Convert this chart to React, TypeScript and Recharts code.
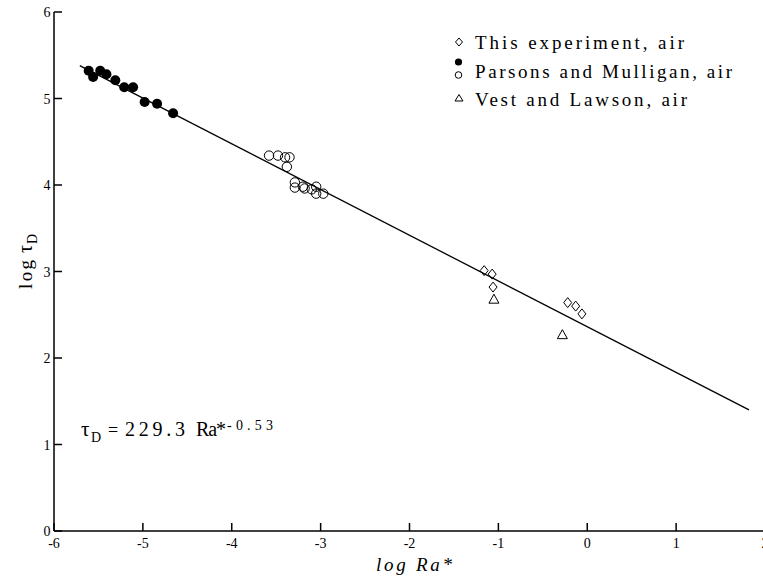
import React from 'react'
import { ScatterChart, Scatter, XAxis, YAxis, Legend, Label } from 'recharts'

const FONT = "'Liberation Serif', 'Times New Roman', 'DejaVu Serif', serif"

const xTicks = [-6, -5, -4, -3, -2, -1, 0, 1, 2]
const yTicks = [0, 1, 2, 3, 4, 5, 6]

// Parsons and Mulligan, filled symbols
const parsonsFilled = [
  { x: -5.61, y: 5.32 },
  { x: -5.56, y: 5.25 },
  { x: -5.48, y: 5.32 },
  { x: -5.41, y: 5.28 },
  { x: -5.31, y: 5.21 },
  { x: -5.21, y: 5.13 },
  { x: -5.11, y: 5.13 },
  { x: -4.98, y: 4.96 },
  { x: -4.84, y: 4.94 },
  { x: -4.66, y: 4.83 },
]

// Parsons and Mulligan, open symbols
const parsonsOpen = [
  { x: -3.58, y: 4.34 },
  { x: -3.48, y: 4.34 },
  { x: -3.4, y: 4.32 },
  { x: -3.35, y: 4.32 },
  { x: -3.38, y: 4.21 },
  { x: -3.29, y: 4.03 },
  { x: -3.29, y: 3.97 },
  { x: -3.2, y: 3.98 },
  { x: -3.18, y: 3.96 },
  { x: -3.1, y: 3.95 },
  { x: -3.05, y: 3.98 },
  { x: -3.05, y: 3.9 },
  { x: -2.97, y: 3.9 },
]

const thisExperiment = [
  { x: -1.16, y: 3.01 },
  { x: -1.07, y: 2.97 },
  { x: -1.06, y: 2.82 },
  { x: -0.22, y: 2.64 },
  { x: -0.13, y: 2.6 },
  { x: -0.06, y: 2.51 },
]

const vestLawson = [
  { x: -1.05, y: 2.68 },
  { x: -0.28, y: 2.27 },
]

// fitted line tau_D = 229.3 Ra*^-0.53, ends as drawn
const fitLine = [
  { x: -5.71, y: 5.38 },
  { x: 1.82, y: 1.4 },
]

const Dot = (p: any) => <circle cx={p.cx} cy={p.cy} r={5} fill="#000" />
const Ring = (p: any) => (
  <circle cx={p.cx} cy={p.cy} r={4.7} fill="none" stroke="#000" strokeWidth={1} />
)
const Diamond = (p: any) => (
  <path
    d={`M${p.cx},${p.cy - 5}L${p.cx + 4},${p.cy}L${p.cx},${p.cy + 5}L${p.cx - 4},${p.cy}Z`}
    fill="none"
    stroke="#000"
    strokeWidth={1}
  />
)
const Triangle = (p: any) => (
  <path
    d={`M${p.cx},${p.cy - 5}L${p.cx + 5},${p.cy + 4}L${p.cx - 5},${p.cy + 4}Z`}
    fill="none"
    stroke="#000"
    strokeWidth={1}
  />
)
const NoDot = () => <g />

// tick marks point into the plot, labels sit outside
const BottomTick = ({ x, y, payload }: any) => (
  <g>
    <line x1={x} x2={x} y1={y - 8} y2={y - 16} stroke="#000" strokeWidth={1.5} />
    <text x={x} y={y + 9} textAnchor="middle" fontFamily={FONT} fontSize={14} fill="#000">
      {payload.value}
    </text>
  </g>
)
const LeftTick = ({ x, y, payload }: any) => (
  <g>
    <line x1={x + 8} x2={x + 16} y1={y} y2={y} stroke="#000" strokeWidth={1.5} />
    <text x={x + 4.5} y={y + 5} textAnchor="end" fontFamily={FONT} fontSize={14} fill="#000">
      {payload.value}
    </text>
  </g>
)
const TopTick = ({ x, y }: any) => (
  <line x1={x} x2={x} y1={y + 8} y2={y + 15} stroke="#000" strokeWidth={1.5} />
)
const RightTick = ({ x, y }: any) => (
  <line x1={x - 8} x2={x - 15} y1={y} y2={y} stroke="#000" strokeWidth={1.5} />
)

const txt = { fontFamily: FONT, fill: '#000' }
const axisStroke = { stroke: '#000', strokeWidth: 1.5 }

const LegendBox = () => (
  <svg width={330} height={115} style={{ display: 'block' }}>
    <g transform="translate(-440,0)">
      <path d="M459,38L462.5,42L459,46L455.5,42Z" fill="none" stroke="#000" strokeWidth={1} />
      <text x={475} y={49} fontSize={19} textLength={209} lengthAdjust="spacing" {...txt}>
        This experiment, air
      </text>
      <circle cx={458.5} cy={62} r={3.6} fill="#000" />
      <circle cx={458.5} cy={75} r={3.3} fill="none" stroke="#000" strokeWidth={1} />
      <text x={475} y={78} fontSize={19} textLength={257} lengthAdjust="spacing" {...txt}>
        Parsons and Mulligan, air
      </text>
      <path d="M459,94.5L463,101L455,101Z" fill="none" stroke="#000" strokeWidth={1} />
      <text x={475} y={106} fontSize={19} textLength={212} lengthAdjust="spacing" {...txt}>
        Vest and Lawson, air
      </text>
    </g>
  </svg>
)

const YTitle = () => (
  <g transform="translate(32,289) rotate(-90)">
    <text x={0} y={0} fontSize={19} textLength={29} lengthAdjust="spacing" {...txt}>
      log
    </text>
    <text x={36} y={0} fontSize={20} {...txt}>
      τ
    </text>
    <text x={45} y={5} fontSize={14} {...txt}>
      D
    </text>
  </g>
)

const XTitle = () => (
  <text x={376} y={571} fontSize={19} fontStyle="italic" textLength={76} lengthAdjust="spacing" {...txt}>
    log Ra*
  </text>
)

export default function App() {
  return (
    <div
      style={{
        position: 'absolute',
        left: 0,
        top: 0,
        width: 763,
        height: 576,
        overflow: 'hidden',
        background: '#fff',
      }}
    >
      <ScatterChart width={775} height={576} margin={{ top: 12, right: 10, bottom: 0, left: 10 }}>
        <XAxis
          type="number"
          dataKey="x"
          domain={[-6, 2]}
          ticks={xTicks}
          interval={0}
          height={45}
          allowDataOverflow
          tickLine={false}
          tickSize={6}
          tickMargin={2}
          axisLine={axisStroke}
          tick={BottomTick}
        >
          <Label content={XTitle} />
        </XAxis>
        <YAxis
          type="number"
          dataKey="y"
          domain={[0, 6]}
          ticks={yTicks}
          interval={0}
          width={44}
          allowDataOverflow
          tickLine={false}
          tickSize={6}
          tickMargin={2}
          axisLine={axisStroke}
          tick={LeftTick}
        >
          <Label content={YTitle} />
        </YAxis>
        <XAxis
          xAxisId="top"
          orientation="top"
          type="number"
          domain={[-6, 2]}
          ticks={xTicks}
          interval={0}
          height={0}
          tickLine={false}
          tickSize={6}
          tickMargin={2}
          axisLine={axisStroke}
          tick={TopTick}
        />
        <YAxis
          yAxisId="right"
          orientation="right"
          type="number"
          domain={[0, 6]}
          ticks={yTicks}
          interval={0}
          width={0}
          tickLine={false}
          tickSize={6}
          tickMargin={2}
          axisLine={axisStroke}
          tick={RightTick}
        />
        <Scatter
          data={fitLine}
          line={{ stroke: '#000', strokeWidth: 1.3 }}
          shape={NoDot}
          isAnimationActive={false}
        />
        <Scatter data={parsonsFilled} shape={Dot} isAnimationActive={false} />
        <Scatter data={parsonsOpen} shape={Ring} isAnimationActive={false} />
        <Scatter data={thisExperiment} shape={Diamond} isAnimationActive={false} />
        <Scatter data={vestLawson} shape={Triangle} isAnimationActive={false} />
        <Legend
          layout="horizontal"
          verticalAlign="middle"
          align="center"
          wrapperStyle={{ top: 0, left: 440, width: 330, height: 115 }}
          content={LegendBox}
        />
      </ScatterChart>
      <svg
        width={763}
        height={576}
        style={{ position: 'absolute', left: 0, top: 0, pointerEvents: 'none' }}
      >
        <text x={81} y={436} fontSize={21} {...txt}>
          τ
        </text>
        <text x={91} y={442} fontSize={14} {...txt}>
          D
        </text>
        <text x={108} y={436} fontSize={18} {...txt}>
          =
        </text>
        <text x={125} y={436} fontSize={20} textLength={60} lengthAdjust="spacing" {...txt}>
          229.3
        </text>
        <text x={196} y={436} fontSize={20} textLength={30} lengthAdjust="spacing" {...txt}>
          Ra*
        </text>
        <text x={227} y={430} fontSize={14} textLength={46} lengthAdjust="spacing" {...txt}>
          -0.53
        </text>
      </svg>
    </div>
  )
}
